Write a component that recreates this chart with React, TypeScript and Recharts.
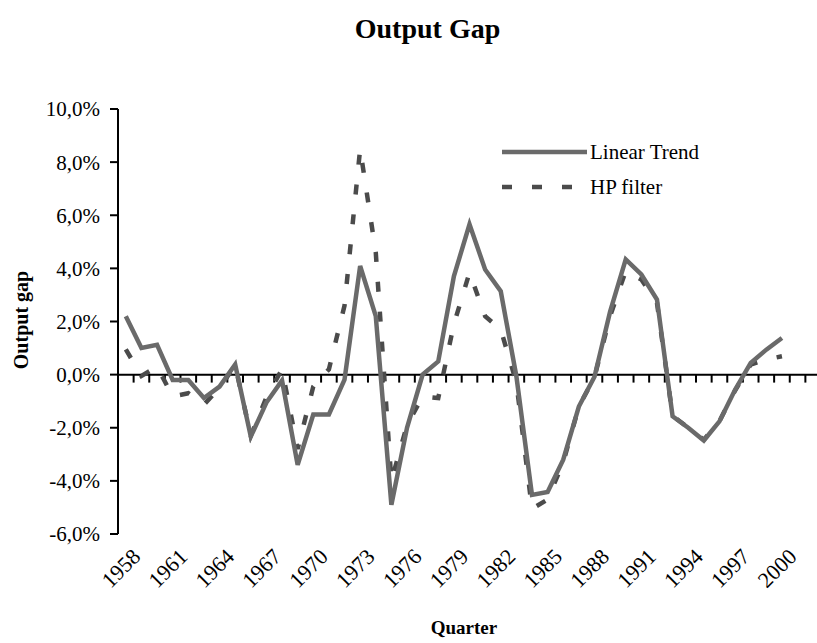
import { LineChart, Line, XAxis, YAxis, ReferenceLine } from "recharts"

const years = [
  1958, 1959, 1960, 1961, 1962, 1963, 1964, 1965, 1966, 1967,
  1968, 1969, 1970, 1971, 1972, 1973, 1974, 1975, 1976, 1977,
  1978, 1979, 1980, 1981, 1982, 1983, 1984, 1985, 1986, 1987,
  1988, 1989, 1990, 1991, 1992, 1993, 1994, 1995, 1996, 1997,
  1998, 1999, 2000,
]

// output gap in %, linear trend
const linearTrend = [
  2.2, 1.0, 1.12, -0.2, -0.2, -0.88, -0.45, 0.38, -2.33, -1.05,
  -0.22, -3.4, -1.5, -1.5, -0.19, 4.09, 2.2, -4.9, -2.0, 0.0,
  0.5, 3.7, 5.66, 3.96, 3.14, -0.06, -4.53, -4.42, -3.2, -1.2,
  -0.08, 2.37, 4.34, 3.77, 2.83, -1.57, -2.0, -2.48, -1.76, -0.57,
  0.44, 0.94, 1.38,
]

// output gap in %, HP filter
const hpFilter = [
  0.95, -0.05, 0.3, -0.82, -0.7, -1.13, -0.5, 0.35, -2.3, -0.85,
  0.2, -2.8, -0.45, 0.2, 2.6, 8.5, 4.6, -4.0, -1.9, -0.82,
  -0.88, 1.9, 3.84, 2.2, 1.7, -0.3, -5.05, -4.7, -3.3, -1.2,
  -0.1, 2.2, 3.9, 3.58, 2.7, -1.55, -2.0, -2.45, -1.75, -0.6,
  0.38, 0.57, 0.69,
]

const yearLabels = [
  1958, 1961, 1964, 1967, 1970, 1973, 1976, 1979, 1982, 1985, 1988, 1991,
  1994, 1997, 2000,
]
const yTicks = [-6, -4, -2, 0, 2, 4, 6, 8, 10]

// the category axis runs two slots past the last year
const firstYear = 1958
const lastSlot = 2002

const data = years.map((year, i) => ({
  year,
  linear: linearTrend[i],
  hp: hpFilter[i],
}))

const boundaries: number[] = []
for (let y = firstYear; y <= lastSlot; y++) boundaries.push(y + 0.5)

const serif = "'Liberation Serif', 'DejaVu Serif', serif"
const solidColor = "#6a6a6a"
const dashColor = "#4b4b4b"

const pct = (v: number) => `${v.toFixed(1).replace(".", ",")}%`

type TickProps = {
  x?: number
  y?: number
  payload?: { value: number }
}

function YearTick({ x = 0, y = 0, payload }: TickProps) {
  const ax = x + 16
  const ay = y + 22
  return (
    <text
      x={ax}
      y={ay}
      transform={`rotate(-45 ${ax} ${ay})`}
      textAnchor="end"
      fontFamily={serif}
      fontSize={22}
      fill="#000"
    >
      {payload?.value}
    </text>
  )
}

export default function App() {
  return (
    <div
      style={{
        position: "absolute",
        left: 0,
        top: 0,
        width: 817,
        height: 643,
        overflow: "hidden",
        background: "#fff",
        fontFamily: serif,
      }}
    >
      <div
        style={{
          position: "absolute",
          left: 0,
          width: 855,
          top: 13,
          textAlign: "center",
          fontWeight: "bold",
          fontSize: 28,
        }}
      >
        Output Gap
      </div>

      <LineChart
        width={830}
        height={643}
        data={data}
        margin={{ top: 109, right: 9, bottom: 49, left: 0 }}
      >
        <XAxis
          dataKey="year"
          type="number"
          domain={[firstYear - 0.5, lastSlot + 0.5]}
          ticks={yearLabels}
          interval={0}
          axisLine={false}
          tickLine={false}
          tickSize={0}
          height={60}
          tick={<YearTick />}
        />
        <YAxis
          domain={[-6, 10]}
          ticks={yTicks}
          interval={0}
          width={118}
          tickFormatter={pct}
          axisLine={{ stroke: "#000", strokeWidth: 2 }}
          tickLine={{ stroke: "#000", strokeWidth: 2 }}
          tickSize={8}
          tickMargin={10}
          tick={{ fill: "#000", fontSize: 21, fontFamily: serif }}
        />

        <ReferenceLine y={0} stroke="#000" strokeWidth={2} />
        {boundaries.map((b) => (
          <ReferenceLine
            key={b}
            segment={[
              { x: b, y: 0 },
              { x: b, y: -0.3 },
            ]}
            stroke="#000"
            strokeWidth={2}
          />
        ))}

        <Line
          dataKey="hp"
          type="linear"
          stroke={dashColor}
          strokeWidth={4.5}
          strokeDasharray="10 20"
          dot={false}
          isAnimationActive={false}
        />
        <Line
          dataKey="linear"
          type="linear"
          stroke={solidColor}
          strokeWidth={4.5}
          dot={false}
          isAnimationActive={false}
        />
      </LineChart>

      <svg
        width={280}
        height={70}
        style={{ position: "absolute", left: 495, top: 130 }}
      >
        <line x1={7} y1={22} x2={92} y2={22} stroke={solidColor} strokeWidth={4.5} />
        <text x={95} y={29} fontFamily={serif} fontSize={21} fill="#000">
          Linear Trend
        </text>
        <line
          x1={7}
          y1={57}
          x2={80}
          y2={57}
          stroke={dashColor}
          strokeWidth={4.5}
          strokeDasharray="10 20"
        />
        <text x={95} y={64} fontFamily={serif} fontSize={21} fill="#000">
          HP filter
        </text>
      </svg>

      <div
        style={{
          position: "absolute",
          left: 21,
          top: 320,
          transform: "translate(-50%, -50%) rotate(-90deg)",
          whiteSpace: "nowrap",
          fontWeight: "bold",
          fontSize: 20,
        }}
      >
        Output gap
      </div>

      <div
        style={{
          position: "absolute",
          left: 0,
          width: 928,
          top: 617,
          textAlign: "center",
          fontWeight: "bold",
          fontSize: 19,
        }}
      >
        Quarter
      </div>
    </div>
  )
}
